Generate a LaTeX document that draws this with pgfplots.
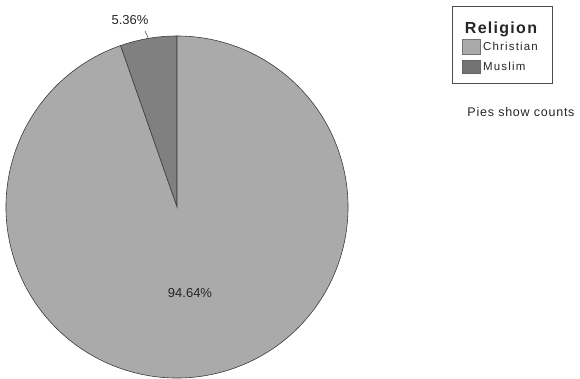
\documentclass[border=0pt]{standalone}
\usepackage{fontspec}
\setmainfont{Liberation Sans}
\newfontfamily\titlefont[LetterSpace=8]{Liberation Sans}
\newfontfamily\legendfont[LetterSpace=10]{Liberation Sans}
\newfontfamily\notefont[LetterSpace=6]{Liberation Sans}
\usepackage{pgfplots}
\usepackage{pgfplotstable}
\pgfplotsset{compat=1.18}

\definecolor{christian}{HTML}{AAAAAA}
\definecolor{muslim}{HTML}{808080}
\definecolor{edge}{HTML}{3C3C3C}

% share of respondents by religion (percent)
\pgfplotstableread{
religion share
Christian 94.64
Muslim 5.36
}\religiondata

\begin{document}
\begin{tikzpicture}
\pgfplotstablegetelem{0}{share}\of\religiondata \let\christianshare\pgfplotsretval
\pgfplotstablegetelem{1}{share}\of\religiondata \let\muslimshare\pgfplotsretval
\pgfmathsetmacro{\muslimend}{90+3.6*\muslimshare}
\pgfmathsetmacro{\christianend}{\muslimend+3.6*\christianshare}
\pgfmathsetmacro{\muslimmid}{(90+\muslimend)/2}
\pgfkeys{/pgf/number format/.cd, fixed, precision=2, fixed zerofill, assume math mode=true}
\begin{axis}[
  scale only axis, width=580pt, height=379pt,
  xmin=0, xmax=580, ymin=0, ymax=379,
  hide axis, clip=false,
]
% pie centre and radius
\def\cx{177}\def\cy{172}\def\r{171}
\filldraw[fill=muslim, draw=edge, line width=0.6pt]
  (axis cs:\cx,\cy) -- (axis cs:{\cx+\r*cos(90)},{\cy+\r*sin(90)})
  arc[start angle=90, end angle=\muslimend, radius=\r] -- cycle;
\filldraw[fill=christian, draw=edge, line width=0.6pt]
  (axis cs:\cx,\cy) -- (axis cs:{\cx+\r*cos(\muslimend)},{\cy+\r*sin(\muslimend)})
  arc[start angle=\muslimend, end angle=\christianend, radius=\r] -- cycle;
% slice labels
\draw[edge, line width=0.5pt] (axis cs:{\cx+\r*cos(\muslimmid)},{\cy+\r*sin(\muslimmid)}) -- (axis cs:145,348);
\node[font=\fontsize{13}{15}\selectfont, text=black!85] at (axis cs:130,359) {\pgfmathprintnumber{\muslimshare}\%};
\node[font=\fontsize{13}{15}\selectfont, text=black!85] at (axis cs:190,86) {\pgfmathprintnumber{\christianshare}\%};
% legend
\draw[black!70, line width=0.6pt, fill=white] (axis cs:452,373) rectangle (axis cs:552,296);
\node[font=\titlefont\fontsize{16}{18}\selectfont\bfseries, text=black!85] at (axis cs:501,350) {Religion};
\filldraw[fill=christian, draw=black!55, line width=0.8pt] (axis cs:462,340) rectangle (axis cs:480,325);
\node[anchor=west, inner sep=0pt, font=\legendfont\fontsize{11.5}{13}\selectfont, text=black!85] at (axis cs:483,332.5) {Christian};
\filldraw[fill=muslim!90!black, draw=muslim!80!black, line width=0.8pt] (axis cs:462,319) rectangle (axis cs:480,306);
\node[anchor=west, inner sep=0pt, font=\legendfont\fontsize{11.5}{13}\selectfont, text=black!85] at (axis cs:483,312.5) {Muslim};
\node[font=\notefont\fontsize{12.5}{14}\selectfont, text=black!85] at (axis cs:521,267) {Pies show counts};
\end{axis}
\pgfresetboundingbox
\path[use as bounding box] (current axis.south west) rectangle (current axis.north east);
\end{tikzpicture}
\end{document}
